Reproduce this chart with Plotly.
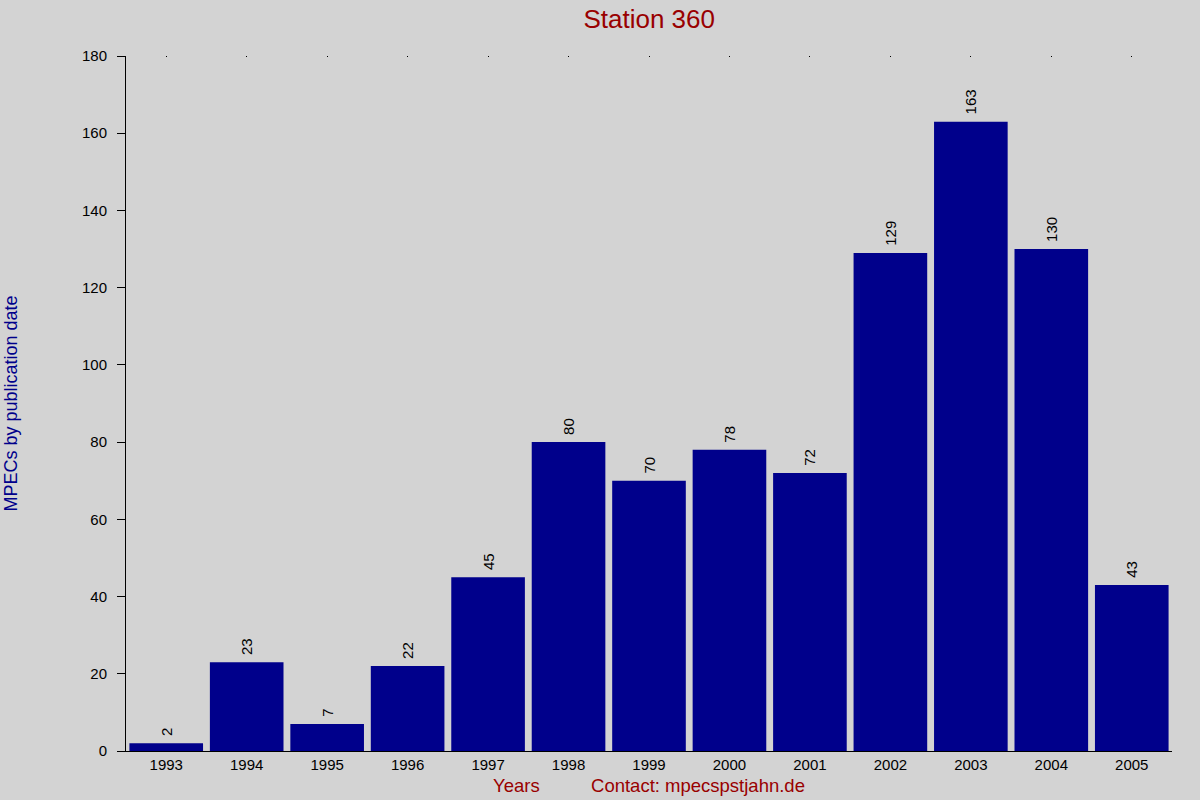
import plotly.graph_objects as go

# MPECs per year for station 360
years = ["1993", "1994", "1995", "1996", "1997", "1998", "1999",
         "2000", "2001", "2002", "2003", "2004", "2005"]
mpecs = [2, 23, 7, 22, 45, 80, 70, 78, 72, 129, 163, 130, 43]
y_ticks = [0, 20, 40, 60, 80, 100, 120, 140, 160, 180]

FONT = "Liberation Sans, Arial, sans-serif"
DARK_RED = "#990000"
DARK_BLUE = "#00008B"

fig = go.Figure()

fig.add_trace(go.Bar(
    x=years,
    y=mpecs,
    marker=dict(color=DARK_BLUE, line=dict(width=0)),
    # nbsp in front gives a small gap between bar top and the rotated label
    text=["\u00a0" + str(v) for v in mpecs],
    textposition="outside",
    textangle=-90,
    textfont=dict(family=FONT, size=15, color="black"),
    cliponaxis=False,
    hovertemplate="%{x}: %{y}<extra></extra>",
))

# invisible trace just to get the little tick dots along the top edge
fig.add_trace(go.Scatter(
    x=years, y=mpecs, xaxis="x2", mode="markers",
    marker=dict(opacity=0), hoverinfo="skip", showlegend=False,
))

fig.update_layout(
    width=1200,
    height=800,
    paper_bgcolor="#d3d3d3",
    plot_bgcolor="#d3d3d3",
    showlegend=False,
    bargap=0.085,
    margin=dict(l=126, r=28, t=56, b=49),
    font=dict(family=FONT, size=15, color="black"),
    title=dict(
        text="Station 360",
        x=0.541, xanchor="center",
        y=0.977, yanchor="middle",
        font=dict(family=FONT, size=26, color=DARK_RED),
    ),
    xaxis=dict(
        type="category",
        categoryarray=years,
        range=[-0.5, len(years) - 0.5],
        automargin=False,
        showgrid=False,
        showline=True,
        linecolor="black",
        linewidth=1,
        ticks="",
        tickfont=dict(size=15, color="black"),
        zeroline=False,
    ),
    xaxis2=dict(
        type="category",
        categoryarray=years,
        range=[-0.5, len(years) - 0.5],
        automargin=False,
        overlaying="x",
        side="top",
        showgrid=False,
        showline=False,
        showticklabels=False,
        ticks="inside",
        ticklen=1,
        tickwidth=1,
        tickcolor="black",
    ),
    yaxis=dict(
        range=[0, 180],
        tickvals=y_ticks,
        automargin=False,
        showgrid=False,
        showline=True,
        linecolor="black",
        linewidth=1,
        ticks="outside",
        ticklen=8,
        tickcolor="black",
        ticklabelstandoff=7,
        tickfont=dict(size=15, color="black"),
        zeroline=False,
        title=dict(
            text="MPECs by publication date",
            font=dict(family=FONT, size=18, color=DARK_BLUE),
            standoff=59,
        ),
    ),
)

fig.add_annotation(
    text="Years\u00a0\u00a0\u00a0\u00a0\u00a0\u00a0\u00a0\u00a0\u00a0\u00a0Contact: mpecspstjahn.de",
    xref="paper", yref="paper",
    x=0.5, y=-0.05,
    xanchor="center", yanchor="middle",
    showarrow=False,
    font=dict(family=FONT, size=18.5, color=DARK_RED),
)

# drop the default page margin so the figure sits at the window's corner
fig.write_html(
    "out.html",
    config={"displayModeBar": False},
    post_script="document.body.style.margin='0';",
)
